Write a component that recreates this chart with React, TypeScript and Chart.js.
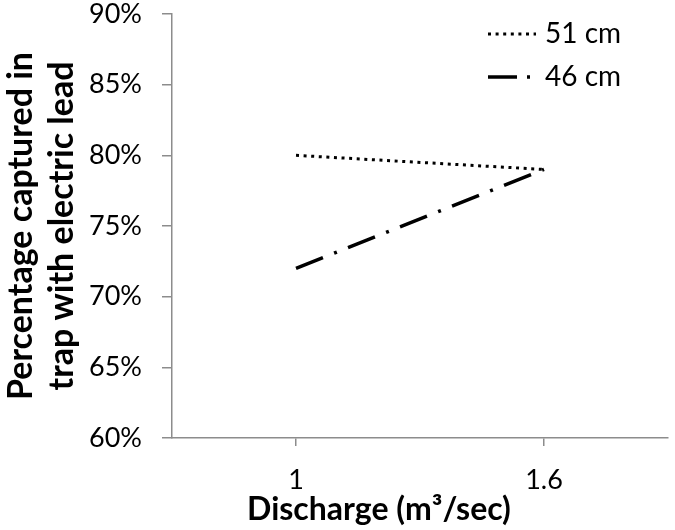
import React, { useEffect, useRef } from "react";
import { Chart, registerables } from "chart.js";

Chart.register(...registerables);

const categories = ["1", "1.6"];
const seriesLabels = ["51 cm", "46 cm"];
const values51 = [0.8, 0.79];
const values46 = [0.72, 0.79];
const yMin = 0.6;
const yMax = 0.9;
const yStep = 0.05;
const yTitleLines = ["Percentage captured in", "trap with electric lead"];
const xTitle = "Discharge (m³/sec)";

const FONT = "Lato, 'Open Sans', sans-serif";
const AXIS_GRAY = "#8c8c8c";

const legendPlugin = {
  id: "customLegend",
  afterDraw(chart: any) {
    const ctx = chart.ctx;
    const ca = chart.chartArea;
    const x0 = ca.right - 180;
    const lineLen = 48;
    const rows = [ca.top + 20, ca.top + 63];
    chart.data.datasets.forEach((ds: any, i: number) => {
      const y = rows[i];
      ctx.save();
      ctx.strokeStyle = ds.borderColor;
      ctx.lineWidth = ds.borderWidth;
      ctx.setLineDash(ds.legendDash || ds.borderDash || []);
      ctx.beginPath();
      ctx.moveTo(x0, y);
      ctx.lineTo(x0 + lineLen, y);
      ctx.stroke();
      ctx.setLineDash([]);
      ctx.fillStyle = "#000";
      ctx.font = `28px ${FONT}`;
      ctx.textBaseline = "middle";
      ctx.textAlign = "left";
      ctx.fillText(ds.label, x0 + lineLen + 9, y);
      ctx.restore();
    });
  },
};

const xTitlePlugin = {
  id: "xTitle",
  afterDraw(chart: any) {
    const ctx = chart.ctx;
    const ca = chart.chartArea;
    ctx.save();
    ctx.fillStyle = "#000";
    ctx.font = `bold 32px ${FONT}`;
    ctx.textAlign = "center";
    ctx.textBaseline = "alphabetic";
    ctx.fillText(xTitle, (ca.left + ca.right) / 2 - 41, ca.bottom + 82);
    ctx.restore();
  },
};

export default function App() {
  const ref = useRef<HTMLCanvasElement>(null);
  useEffect(() => {
    document.body.style.margin = "0";
    const chart = new Chart(ref.current!, {
      type: "line",
      data: {
        labels: categories,
        datasets: [
          {
            label: seriesLabels[0],
            data: values51,
            borderColor: "#000",
            borderWidth: 3,
            borderDash: [3, 4.6],
            pointRadius: 0,
            fill: false,
          } as any,
          {
            label: seriesLabels[1],
            data: values46,
            borderColor: "#000",
            borderWidth: 3.5,
            borderDash: [29, 12, 3, 12],
            legendDash: [29, 10, 3, 20],
            pointRadius: 0,
            fill: false,
          } as any,
        ],
      },
      options: {
        animation: false,
        responsive: false,
        layout: { padding: { left: 0, right: 7, top: 0, bottom: 0 } },
        plugins: {
          legend: { display: false },
          tooltip: { enabled: false },
        },
        scales: {
          x: {
            type: "category",
            offset: true,
            afterFit: (s: any) => {
              s.height = 92;
            },
            grid: {
              drawOnChartArea: false,
              offset: false,
              color: AXIS_GRAY,
              lineWidth: 1.5,
              tickLength: 8,
            },
            border: { color: AXIS_GRAY, width: 1.5 },
            ticks: {
              color: "#000",
              font: { family: FONT, size: 27 },
              padding: 18,
              maxRotation: 0,
            },
          },
          y: {
            min: yMin,
            max: yMax,
            afterFit: (s: any) => {
              s.width = 172;
              s.paddingTop = 14;
              s.paddingBottom = 14;
            },
            grid: {
              drawOnChartArea: false,
              color: AXIS_GRAY,
              lineWidth: 1.5,
              tickLength: 10,
            },
            border: { color: AXIS_GRAY, width: 1.5 },
            ticks: {
              stepSize: yStep,
              color: "#000",
              font: { family: FONT, size: 27, lineHeight: 1.05 },
              padding: 20,
              callback: (v: any) => `${Math.round(Number(v) * 100)}%`,
            },
            title: {
              display: true,
              text: yTitleLines,
              color: "#000",
              font: { family: FONT, size: 34, weight: "bold", lineHeight: 1.22 },
              padding: { top: 0, bottom: 0 },
            },
          },
        },
      },
      plugins: [legendPlugin, xTitlePlugin],
    });
    return () => chart.destroy();
  }, []);
  return <canvas ref={ref} width={675} height={530} style={{ display: "block" }} />;
}
